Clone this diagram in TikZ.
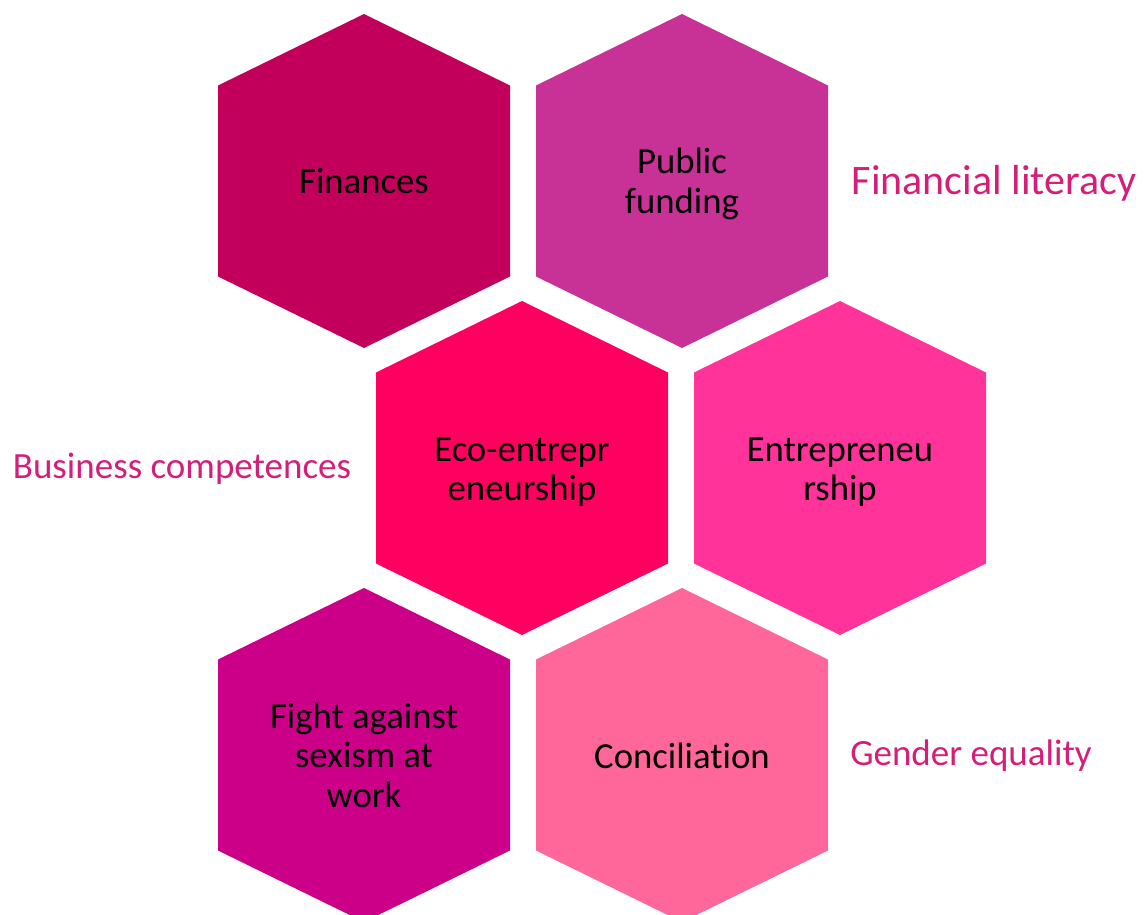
\documentclass[tikz,border=0pt]{standalone}
\usepackage{fontspec}
\setmainfont{Carlito}[Ligatures={NoCommon,NoRare}]
\definecolor{cFin}{HTML}{C2005B}
\definecolor{cPub}{HTML}{C83296}
\definecolor{cEco}{HTML}{FF0060}
\definecolor{cEnt}{HTML}{FF3399}
\definecolor{cFight}{HTML}{CC0088}
\definecolor{cConc}{HTML}{FF6699}
\definecolor{cLabel}{HTML}{D41E78}
% pointy-top hexagon cell centred at (#1,#2), filled with colour #3
\newcommand{\hexcell}[3]{%
  \fill[#3, shift={(#1,#2)}] (0,-167) -- (146,-95.5) -- (146,95.5) -- (0,167)
    -- (-146,95.5) -- (-146,-95.5) -- cycle;}
\tikzset{
  celltext/.style={align=center, inner sep=0pt, text=black,
    font=\fontsize{36.7}{39.5}\selectfont},
  sidelabel/.style={inner sep=0pt, text=cLabel,
    font=\fontsize{37}{44}\selectfont},
}
\begin{document}
\begin{tikzpicture}[x=1pt, y=-1pt]
  \useasboundingbox (0,0) rectangle (1148,915);
  \clip (0,0) rectangle (1148,915);
  % honeycomb cells
  \hexcell{364}{181}{cFin}
  \hexcell{682}{181}{cPub}
  \hexcell{522}{468}{cEco}
  \hexcell{840}{468}{cEnt}
  \hexcell{364}{755}{cFight}
  \hexcell{682}{755}{cConc}
  % cell captions
  \node[celltext] (fin) at (364,181) {Finances};
  \node[celltext] (pub) at (682,184) {Public\\funding};
  \node[celltext] (eco) at (522,472) {Eco-entrepr\\eneurship};
  \node[celltext] (ent) at (840,472) {Entrepreneu\\rship};
  \node[celltext] (fight) at (364,755) {Fight against\\sexism at\\work};
  \node[celltext] (conc) at (682,756) {Conciliation};
  % side labels
  \node[sidelabel, font=\fontsize{42}{48}\selectfont] (lit) at (994,183) {Financial literacy};
  \node[sidelabel] (bus) at (182,469) {Business competences};
  \node[sidelabel] (gen) at (971,756) {Gender equality};
\end{tikzpicture}
\end{document}
